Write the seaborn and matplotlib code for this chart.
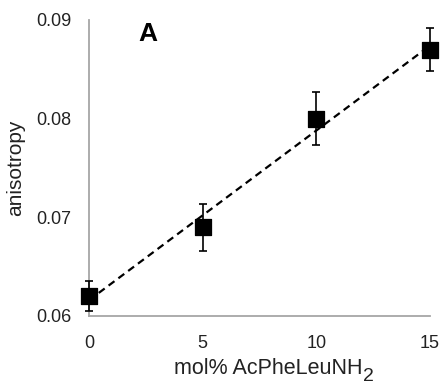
import numpy as np
import pandas as pd
import matplotlib
matplotlib.use("Agg")
import matplotlib.pyplot as plt
import seaborn as sns

mol_pct = [0, 5, 10, 15]
anisotropy = [0.0620, 0.0690, 0.0800, 0.0870]
err = [0.0015, 0.0024, 0.0027, 0.0022]
xticks = [0, 5, 10, 15]
yticks = [0.06, 0.07, 0.08, 0.09]

sns.set_style("white")
plt.rcParams['font.family'] = ['Liberation Sans', 'DejaVu Sans']

df = pd.DataFrame({"x": mol_pct, "y": anisotropy, "e": err})
slope, intercept = np.polyfit(df["x"], df["y"], 1)
fit = pd.DataFrame({"x": [min(mol_pct), max(mol_pct)]})
fit["y"] = intercept + slope * fit["x"]

fig = plt.figure(figsize=(4.42, 3.86), dpi=100)
ax = fig.add_axes([89/442, 1-316/386, (430-89)/442, (316-20)/386])

sns.lineplot(data=fit, x="x", y="y", ax=ax, color="black", lw=1.6,
             linestyle=(0, (3.3, 2.2)), zorder=2)
ax.errorbar(df["x"], df["y"], yerr=df["e"], fmt="none", ecolor="black",
            elinewidth=1.2, capsize=3.2, capthick=1.2, zorder=3, clip_on=False)
sns.scatterplot(data=df, x="x", y="y", ax=ax, marker="s", s=130,
                color="black", edgecolor="black", zorder=4, clip_on=False)

ax.set_xlim(0, 15)
ax.set_ylim(0.06, 0.09)
ax.set_xticks(xticks)
ax.set_yticks(yticks)
ax.set_yticklabels([f"{v:.2f}" for v in yticks])
for s in ["top", "right"]:
    ax.spines[s].set_visible(False)
for s in ["left", "bottom"]:
    ax.spines[s].set_color("#a6a6a6")
    ax.spines[s].set_linewidth(1.3)
ax.tick_params(axis="both", direction="out", length=4.5, width=1.2,
               color="#a6a6a6", labelsize=13, labelcolor="#222222")
ax.tick_params(axis="y", pad=8)
ax.tick_params(axis="x", pad=9)

ax.set_xlabel("mol% AcPheLeuNH", fontsize=15.5, color="#222222")
ax.xaxis.set_label_coords((268 - 89) / 341, (316 - 358) / 296)
ax.annotate("2", xy=(1, 0), xycoords=ax.xaxis.label, xytext=(0.3, -1.5),
            textcoords="offset points", ha="left", va="baseline",
            fontsize=14, color="#222222", annotation_clip=False)
ax.set_ylabel("anisotropy", fontsize=15, color="#222222", labelpad=8)
ax.text(0.172, 0.953, "A", transform=ax.transAxes, fontsize=19,
        fontweight="bold", color="black", va="center", ha="center")

fig.savefig("out.png", dpi=100)
